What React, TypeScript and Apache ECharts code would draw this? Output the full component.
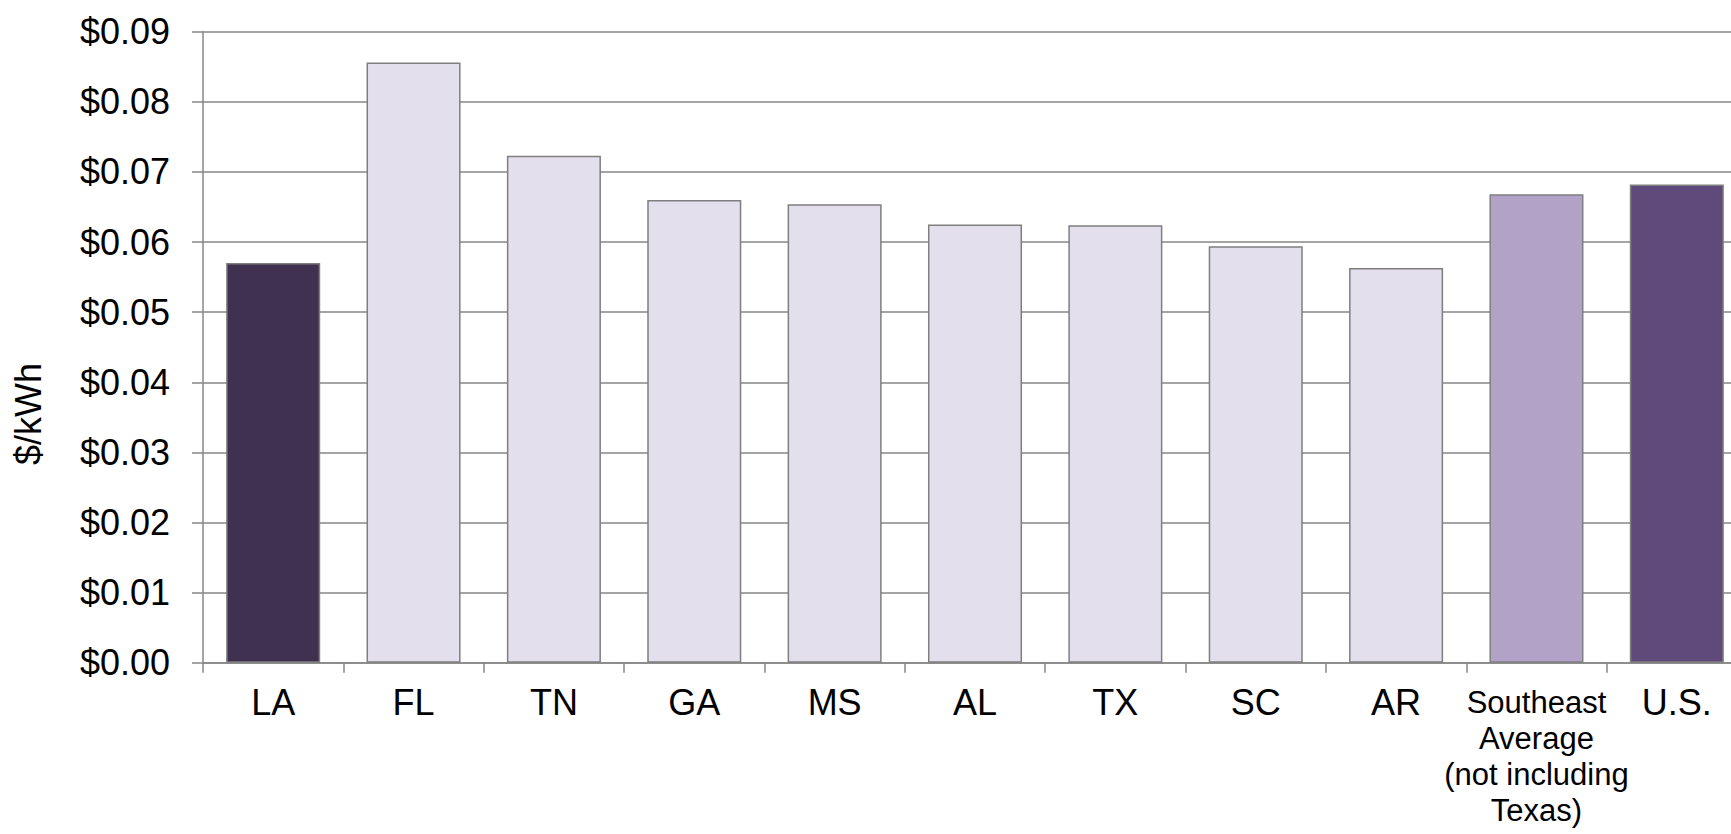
import React, { useEffect, useRef } from "react";
import * as echarts from "echarts";

const categories = ["LA", "FL", "TN", "GA", "MS", "AL", "TX", "SC", "AR", "Southeast\nAverage\n(not including\nTexas)", "U.S."];
const values = [0.057, 0.0856, 0.0723, 0.066, 0.0654, 0.0625, 0.0624, 0.0594, 0.0563, 0.0668, 0.0682];
const barColors = ["#403151", "#E4DFEC", "#E4DFEC", "#E4DFEC", "#E4DFEC", "#E4DFEC", "#E4DFEC", "#E4DFEC", "#E4DFEC", "#B3A2C7", "#604A7B"];
const yAxisTitle = "$/kWh";

const FONT = "'Liberation Sans', Arial, sans-serif";

export default function App() {
  const ref = useRef<HTMLDivElement>(null);
  useEffect(() => {
    if (!ref.current) return;
    const chart = echarts.init(ref.current, undefined, { renderer: "svg" });
    chart.setOption({
      animation: false,
      backgroundColor: "#ffffff",
      grid: { left: 203, right: 13, top: 31.7, bottom: 171.3, containLabel: false },
      graphic: [
        {
          type: "text",
          x: 28,
          y: 414,
          rotation: Math.PI / 2,
          style: { text: yAxisTitle, font: `36px ${FONT}`, fill: "#000", align: "center", verticalAlign: "middle" },
        },
      ],
      xAxis: {
        type: "category",
        data: categories,
        axisLine: { lineStyle: { color: "#878787", width: 1.5 } },
        axisTick: { show: true, length: 10, lineStyle: { color: "#878787", width: 1.5 } },
        axisLabel: {
          interval: 0,
          margin: 22,
          color: "#000",
          fontFamily: FONT,
          fontSize: 36,
          formatter: (v: string) => (v.indexOf("\n") >= 0 ? v.split("\n").map((s) => `{s|${s}}`).join("\n") : v),
          rich: { s: { fontSize: 31, lineHeight: 36, fontFamily: FONT, color: "#000" } },
        },
      },
      yAxis: {
        type: "value",
        min: 0,
        max: 0.09,
        interval: 0.01,
        axisLine: { show: true, lineStyle: { color: "#878787", width: 1.5 } },
        axisTick: { show: true, length: 11, lineStyle: { color: "#878787", width: 1.5 } },
        splitLine: { lineStyle: { color: "#878787", width: 1.5 } },
        axisLabel: {
          margin: 33,
          color: "#000",
          fontFamily: FONT,
          fontSize: 36,
          formatter: (v: number) => "$" + v.toFixed(2),
        },
      },
      series: [
        {
          type: "bar",
          data: values.map((v, i) => ({ value: v, itemStyle: { color: barColors[i] } })),
          barCategoryGap: "33%",
          itemStyle: { borderColor: "#7f7f7f", borderWidth: 1.5 },
        },
      ],
    });
    return () => chart.dispose();
  }, []);
  return (
    <div style={{ position: "fixed", left: 0, top: 0, width: 1731, height: 834, overflow: "hidden", background: "#fff" }}>
      <div ref={ref} style={{ width: 1760, height: 834 }} />
    </div>
  );
}
